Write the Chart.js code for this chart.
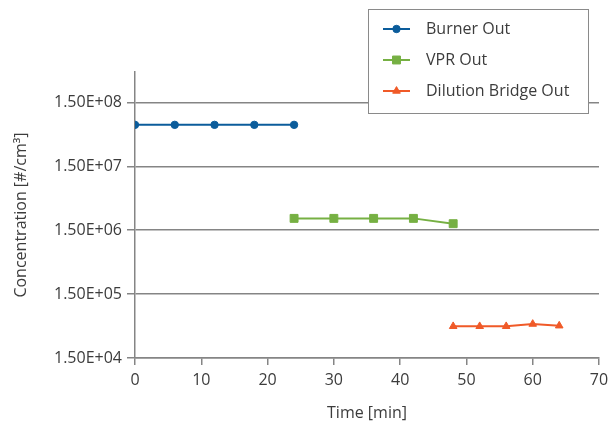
<!DOCTYPE html>
<html><head><meta charset="utf-8">
<script src="https://cdn.jsdelivr.net/npm/chart.js@4.4.1/dist/chart.umd.min.js"></script>
<style>html,body{margin:0;padding:0;background:#fff}#wrap{width:611px;height:425px;position:relative}</style>
</head><body><div id="wrap"><canvas id="c"></canvas></div>
<script>
// ---- data ----
const seriesNames = ['Burner Out', 'VPR Out', 'Dilution Bridge Out'];
const burnerTime = [0, 6, 12, 18, 24];
const burnerConc = [6.7e7, 6.7e7, 6.7e7, 6.7e7, 6.7e7];
const vprTime = [24, 30, 36, 42, 48];
const vprConc = [2.3e6, 2.3e6, 2.3e6, 2.3e6, 1.9e6];
const dilutionTime = [48, 52, 56, 60, 64];
const dilutionConc = [4.7e4, 4.7e4, 4.7e4, 5.1e4, 4.8e4];
const yTickValues = [1.5e4, 1.5e5, 1.5e6, 1.5e7, 1.5e8];
const yTickLabels = ['1.50E+04', '1.50E+05', '1.50E+06', '1.50E+07', '1.50E+08'];
const xTickLabels = ['0', '10', '20', '30', '40', '50', '60', '70'];
const xTitle = 'Time [min]';
const yTitle = 'Concentration [#/cm\u00B3]';

// ---- styles ----
const TEXT = '#3c3c3c';
const GRID = '#858585';
const colors = ['#0b5c9b', '#76b043', '#f05a28'];
const styles = ['circle', 'rect', 'triangle'];
const radii = [3.7, 5.6, 4.4];

Chart.defaults.font.family = "'Open Sans', sans-serif";
Chart.defaults.font.size = 16;
Chart.defaults.color = TEXT;

function pts(xs, ys) { return xs.map((x, i) => ({ x: x, y: ys[i] })); }
const seriesData = [pts(burnerTime, burnerConc), pts(vprTime, vprConc), pts(dilutionTime, dilutionConc)];

const datasets = seriesNames.map((name, i) => ({
  label: name,
  data: seriesData[i],
  borderColor: colors[i],
  backgroundColor: colors[i],
  pointBackgroundColor: colors[i],
  pointBorderColor: colors[i],
  pointBorderWidth: 1,
  pointStyle: styles[i],
  pointRadius: radii[i],
  borderWidth: 2,
  showLine: true,
  tension: 0
}));

function drawMarker(ctx, style, x, y, r) {
  ctx.beginPath();
  if (style === 'circle') {
    ctx.arc(x, y, r, 0, Math.PI * 2);
  } else if (style === 'rect') {
    const s = Math.SQRT1_2 * r;
    ctx.rect(x - s, y - s, 2 * s, 2 * s);
  } else {
    ctx.moveTo(x, y - r);
    ctx.lineTo(x + r * 0.866, y + r * 0.5);
    ctx.lineTo(x - r * 0.866, y + r * 0.5);
    ctx.closePath();
  }
  ctx.fill();
  ctx.stroke();
}

const legendBox = { left: 368.5, top: 9.5, right: 588.5, bottom: 113.5 };
const legendRows = [29, 60, 91];
const boxLegend = {
  id: 'boxLegend',
  afterDraw(chart) {
    const ctx = chart.ctx;
    ctx.save();
    ctx.fillStyle = '#ffffff';
    ctx.strokeStyle = '#8a8a8a';
    ctx.lineWidth = 1;
    ctx.fillRect(legendBox.left, legendBox.top, legendBox.right - legendBox.left, legendBox.bottom - legendBox.top);
    ctx.strokeRect(legendBox.left, legendBox.top, legendBox.right - legendBox.left, legendBox.bottom - legendBox.top);
    chart.data.datasets.forEach((ds, i) => {
      const y = legendRows[i];
      ctx.strokeStyle = ds.borderColor;
      ctx.fillStyle = ds.pointBackgroundColor;
      ctx.lineWidth = 2;
      ctx.beginPath();
      ctx.moveTo(383, y);
      ctx.lineTo(410, y);
      ctx.stroke();
      ctx.lineWidth = 1;
      drawMarker(ctx, ds.pointStyle, 396.5, y, ds.pointRadius);
      ctx.fillStyle = TEXT;
      ctx.font = "16px 'Open Sans', sans-serif";
      ctx.textBaseline = 'middle';
      ctx.textAlign = 'left';
      ctx.fillText(ds.label, 426, y);
    });
    ctx.restore();
  }
};

new Chart(document.getElementById('c'), {
  type: 'line',
  data: { datasets: datasets },
  options: {
    responsive: true,
    maintainAspectRatio: false,
    animation: false,
    layout: { padding: { top: 72, right: 12, left: 0, bottom: 0 } },
    plugins: { legend: { display: false }, tooltip: { enabled: false } },
    scales: {
      x: {
        type: 'linear',
        min: 0, max: 70,
        afterBuildTicks: (s) => { s.ticks = xTickLabels.map(t => ({ value: Number(t) })); },
        ticks: { stepSize: 10, padding: 6, maxRotation: 0, color: TEXT,
          callback: (v) => xTickLabels[xTickLabels.indexOf(String(v))] },
        grid: { drawOnChartArea: false, drawTicks: true, tickLength: 7, color: GRID, lineWidth: 1.5 },
        border: { display: true, color: GRID, width: 1.5 },
        title: { display: true, text: xTitle, color: TEXT, font: { size: 16 }, padding: { top: 0, bottom: 2 } },
        afterFit: (s) => { s.height = 67; s.paddingLeft = 0; s.paddingRight = 0; }
      },
      y: {
        type: 'logarithmic',
        min: 1.5e4, max: 4.5e8,
        afterBuildTicks: (s) => { s.ticks = yTickValues.map(v => ({ value: v })); },
        ticks: { padding: 5, color: TEXT,
          callback: (v) => yTickLabels[yTickValues.indexOf(v)] },
        grid: { drawOnChartArea: true, drawTicks: true, tickLength: 8, color: GRID, lineWidth: 1.5 },
        border: { display: true, color: GRID, width: 1.5 },
        title: { display: true, text: yTitle, color: TEXT, font: { size: 16 }, padding: { top: 12, bottom: 0 } },
        afterFit: (s) => { s.width = 135; s.paddingTop = 0; s.paddingBottom = 0; }
      }
    }
  },
  plugins: [boxLegend]
});
</script>
</body></html>
